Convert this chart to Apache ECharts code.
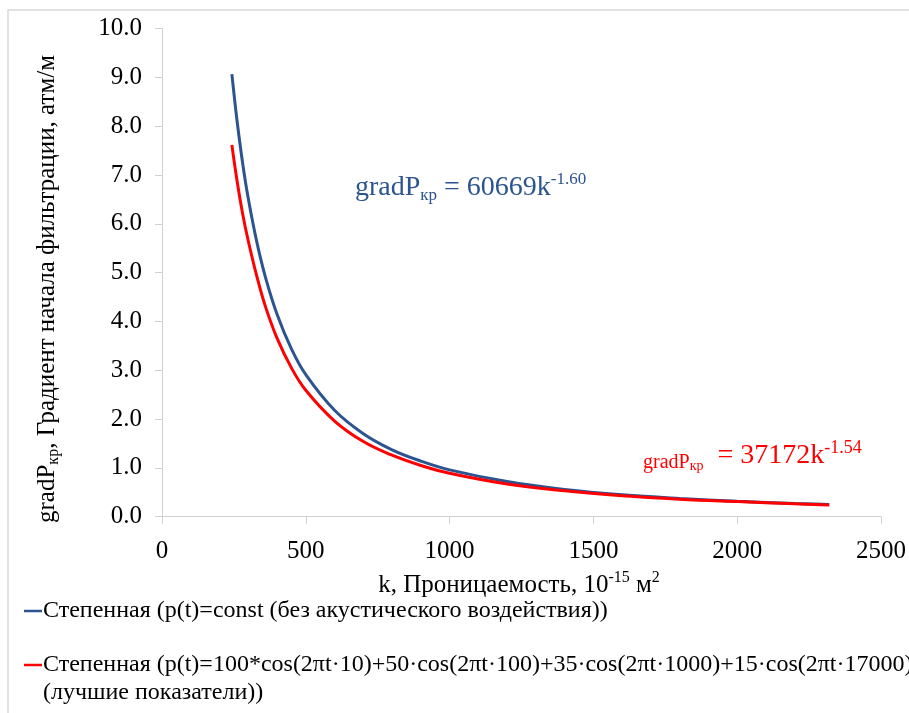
<!DOCTYPE html>
<html>
<head>
<meta charset="utf-8">
<script src="https://cdn.jsdelivr.net/npm/echarts@6/dist/echarts.min.js"></script>
<style>
  html, body { margin: 0; padding: 0; background: #fff; }
  #chart { width: 909px; height: 713px; }
</style>
</head>
<body>
<div id="chart"></div>
<script>
// проницаемость k, 10^-15 м2
var kValues = [243, 260, 280, 300, 330, 360, 400, 450, 500, 600, 700, 800, 900, 1000, 1200, 1400, 1600, 1800, 2000, 2200, 2320];
// без акустического воздействия
var gradConst = [9.07, 8.16, 7.26, 6.52, 5.62, 4.90, 4.15, 3.44, 2.91, 2.18, 1.70, 1.37, 1.14, 0.96, 0.72, 0.56, 0.45, 0.375, 0.317, 0.272, 0.25];
// лучшие показатели
var gradBest = [7.62, 6.92, 6.22, 5.65, 4.92, 4.30, 3.66, 3.05, 2.59, 1.96, 1.54, 1.26, 1.05, 0.89, 0.67, 0.53, 0.43, 0.36, 0.31, 0.265, 0.24];
var yTicks = ['0.0', '1.0', '2.0', '3.0', '4.0', '5.0', '6.0', '7.0', '8.0', '9.0', '10.0'];

var serif = 'Liberation Serif';
var blue = '#2B5490';
var red = '#FF0000';

function pairs(xs, ys) {
    return xs.map(function (x, i) { return [x, ys[i]]; });
}

var chart = echarts.init(document.getElementById('chart'));

var option = {
    backgroundColor: '#fff',
    animation: false,
    grid: { left: 162, right: 27, top: 28.7, bottom: 196.3 },
    xAxis: {
        type: 'value', min: 0, max: 2500, interval: 500,
        axisLine: { show: true, lineStyle: { color: '#d0d0d0', width: 1 } },
        axisTick: { show: true, length: 7, lineStyle: { color: '#d0d0d0' } },
        splitLine: { show: false },
        axisLabel: {
            color: '#000', fontFamily: serif, fontSize: 25, margin: 22,
            formatter: function (v) { return String(v); }
        }
    },
    yAxis: {
        type: 'value', min: 0, max: 10, interval: 1,
        axisLine: { show: true, lineStyle: { color: '#d0d0d0', width: 1 } },
        axisTick: { show: true, length: 7, lineStyle: { color: '#d0d0d0' } },
        splitLine: { show: false },
        axisLabel: {
            color: '#000', fontFamily: serif, fontSize: 25, margin: 20,
            formatter: function (v) { return yTicks[Math.round(v)]; }
        }
    },
    series: [
        {
            name: 'const', type: 'line', smooth: 0.4, showSymbol: false,
            data: pairs(kValues, gradConst),
            lineStyle: { color: blue, width: 3 }, z: 2
        },
        {
            name: 'best', type: 'line', smooth: 0.4, showSymbol: false,
            data: pairs(kValues, gradBest),
            lineStyle: { color: red, width: 3 }, z: 3
        }
    ],
    graphic: [
        // рамка области диаграммы
        { type: 'rect', shape: { x: 8, y: 10, width: 1000, height: 800 },
          style: { fill: 'none', stroke: '#d9d9d9', lineWidth: 1.5 }, silent: true },
        // подпись оси Y
        { type: 'text', x: 47, y: 289, rotation: Math.PI / 2,
          style: {
              text: '{m|gradP}{s|кр}{m|, Градиент начала фильтрации, атм/м}',
              align: 'center', verticalAlign: 'middle',
              rich: {
                  m: { fontFamily: serif, fontSize: 25, fill: '#000', lineHeight: 30 },
                  s: { fontFamily: serif, fontSize: 16, fill: '#000', verticalAlign: 'bottom', lineHeight: 22 }
              }
          } },
        // подпись оси X
        { type: 'text', x: 519, y: 585,
          style: {
              text: '{m|k, Проницаемость, 10}{p|-15}{m| м}{p|2}',
              align: 'center', verticalAlign: 'middle',
              rich: {
                  m: { fontFamily: serif, fontSize: 25, fill: '#000', lineHeight: 30 },
                  p: { fontFamily: serif, fontSize: 16, fill: '#000', verticalAlign: 'top', lineHeight: 22 }
              }
          } },
        // уравнение (синее)
        { type: 'text', x: 355, y: 188,
          style: {
              text: '{m|gradP}{s|кр}{m| = 60669k}{p|-1.60}',
              align: 'left', verticalAlign: 'middle',
              rich: {
                  m: { fontFamily: serif, fontSize: 28, fill: blue, lineHeight: 33 },
                  s: { fontFamily: serif, fontSize: 17, fill: blue, verticalAlign: 'bottom', lineHeight: 22 },
                  p: { fontFamily: serif, fontSize: 17, fill: blue, verticalAlign: 'top', lineHeight: 22 }
              }
          } },
        // уравнение (красное)
        { type: 'text', x: 643, y: 456,
          style: {
              text: '{g|gradP}{s|кр}{m|  = 37172k}{p|-1.54}',
              align: 'left', verticalAlign: 'middle',
              rich: {
                  g: { fontFamily: serif, fontSize: 20, fill: red, lineHeight: 24, verticalAlign: 'bottom' },
                  m: { fontFamily: serif, fontSize: 28, fill: red, lineHeight: 34 },
                  s: { fontFamily: serif, fontSize: 14, fill: red, verticalAlign: 'bottom', lineHeight: 20 },
                  p: { fontFamily: serif, fontSize: 18, fill: red, verticalAlign: 'top', lineHeight: 22 }
              }
          } },
        // легенда
        { type: 'line', shape: { x1: 24, y1: 611, x2: 42, y2: 611 }, style: { stroke: blue, lineWidth: 2.5 } },
        { type: 'text', x: 43, y: 611,
          style: { text: 'Степенная (p(t)=const (без акустического воздействия))', fontFamily: serif, fontSize: 24,
                   fill: '#000', align: 'left', verticalAlign: 'middle' } },
        { type: 'line', shape: { x1: 24, y1: 665, x2: 42, y2: 665 }, style: { stroke: red, lineWidth: 2.5 } },
        { type: 'text', x: 43, y: 665,
          style: { text: 'Степенная (p(t)=100*cos(2πt·10)+50·cos(2πt·100)+35·cos(2πt·1000)+15·cos(2πt·17000)',
                   fontFamily: serif, fontSize: 24, fill: '#000', align: 'left', verticalAlign: 'middle' } },
        { type: 'text', x: 43, y: 693,
          style: { text: '(лучшие показатели))', fontFamily: serif, fontSize: 24,
                   fill: '#000', align: 'left', verticalAlign: 'middle' } }
    ]
};

chart.setOption(option);
</script>
</body>
</html>
